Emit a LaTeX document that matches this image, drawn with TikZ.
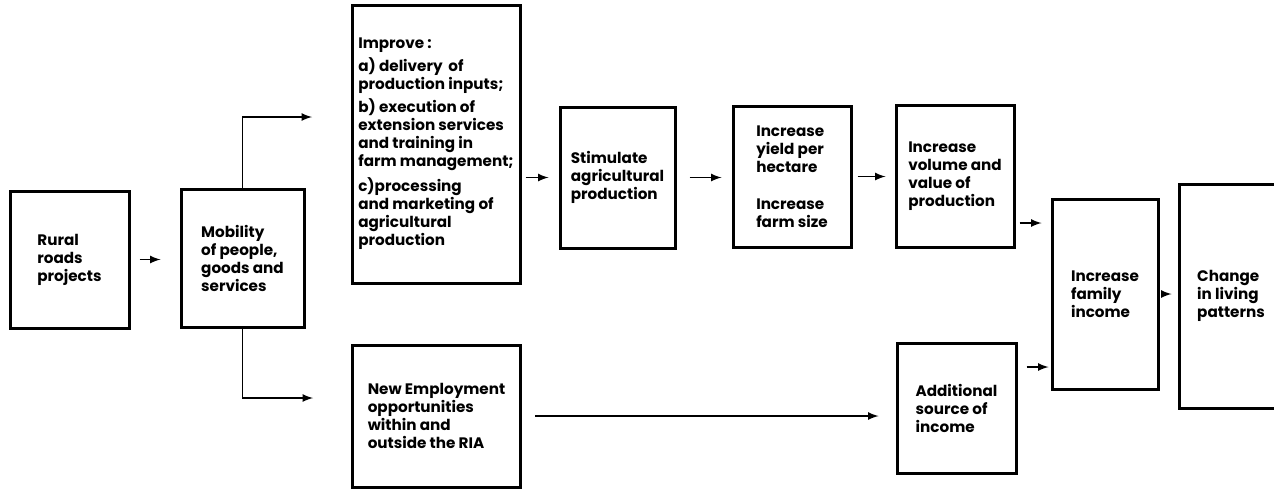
\documentclass[tikz,border=0pt]{standalone}
\usepackage{fontspec}
\setmainfont{Poppins}
\usetikzlibrary{arrows,shapes,positioning}

\begin{document}
\begin{tikzpicture}[x=0.5pt,y=-0.5pt,
        box/.style={draw, line width=1.5pt, align=left, inner sep=0pt,
                font=\fontsize{7.6}{9}\selectfont\bfseries},
        arr/.style={->,>=latex, line width=0.8pt}]
        \useasboundingbox (0,0) rectangle (1274,489);
        \clip (0,0) rectangle (1274,489);

        \node[box, minimum width=59.5pt, minimum height=68.5pt] (rural) at (69.5,259.5) {Rural\\roads\\projects};
        \node[box, minimum width=61.5pt, minimum height=69pt] (mobility) at (242.5,258) {Mobility\\of people,\\goods and\\services};
        \node[box, minimum width=84pt, minimum height=139pt] (improve) at (436,144) {Improve :\\[2.5pt]
                a) delivery\, of\\production inputs;\\[2.5pt]
                b) execution of\\extension services\\and training in\\farm management;\\[2.5pt]
                c)processing\\and marketing of\\agricultural\\production};
        \node[box, minimum width=84pt, minimum height=71pt] (employ) at (436.5,416) {New Employment\\opportunities\\within and\\outside the RIA};
        \node[box, minimum width=57.5pt, minimum height=70.5pt] (stimulate) at (617.5,177.5) {Stimulate\\agricultural\\production};
        \node[box, minimum width=59pt, minimum height=70.5pt] (yield) at (792,176.5) {Increase\\yield per\\hectare\\[9.5pt]Increase\\farm size};
        \node[box, minimum width=59pt, minimum height=71pt] (volume) at (955,176) {Increase\\volume and\\value of\\production};
        \node[box, minimum width=59.5pt, minimum height=65pt] (additional) at (956.5,408) {Additional\\source of\\income};
        \node[box, minimum width=53pt, minimum height=95pt] (family) at (1105,294) {Increase\\family\\income};
        \node[box, minimum width=52pt, minimum height=112pt] (change) at (1231,296) {Change\\in living\\patterns};

        \coordinate (up) at (312,117);
        \coordinate (down) at (313,398);

        \draw[arr, shorten <=4.5pt, shorten >=9.5pt] (rural.east) -- (rural.east -| mobility.west);
        \draw[arr] (mobility.north) |- (up);
        \draw[arr] (mobility.south) |- (down);
        \draw[arr, shorten <=2pt, shorten >=5pt] (improve.east |- stimulate.west) -- (stimulate.west);
        \draw[arr, shorten <=6.5pt, shorten >=5pt] (stimulate.east) -- (stimulate.east -| yield.west);
        \draw[arr, shorten <=2.5pt, shorten >=4.5pt] (yield.east) -- (yield.east -| volume.west);
        \draw[arr, shorten <=2pt, shorten >=4.5pt] ([yshift=-23.5pt]volume.east) -- ([yshift=-23.5pt]volume.east -| family.west);
        \draw[arr, shorten <=4.5pt, shorten >=1pt] ([yshift=20.5pt]additional.east) -- ([yshift=20.5pt]additional.east -| family.west);
        \draw[arr, shorten <=2pt, shorten >=3pt] (family.east) -- (family.east -| change.west);
        \draw[arr, shorten <=6.5pt, shorten >=8.5pt] (employ.east) -- (employ.east -| additional.west);
\end{tikzpicture}
\end{document}
